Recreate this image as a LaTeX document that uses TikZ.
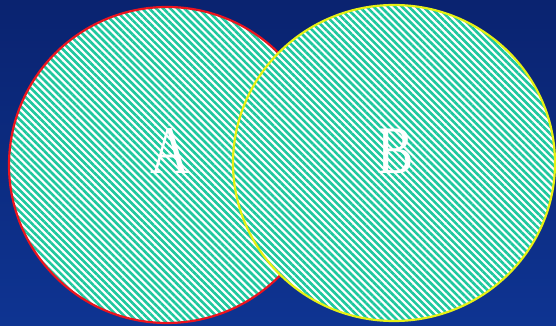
\documentclass[tikz,border=0pt]{standalone}
\usepackage{fontspec}
\setmainfont{Liberation Serif}
\usepackage{tikz}
\usetikzlibrary{patterns.meta}
\definecolor{bgtop}{RGB}{10,35,112}
\definecolor{bgbot}{RGB}{14,52,146}
\definecolor{hatchc}{RGB}{30,200,158}
\definecolor{edgea}{RGB}{235,20,30}
\definecolor{edgeb}{RGB}{230,240,20}
\tikzset{
  sethatch/.style={pattern={Lines[angle=-45,distance=5pt,line width=2.6pt]},pattern color=hatchc},
  setname/.style={text=white,inner sep=0pt,xscale=0.8,font=\fontsize{68}{68}\selectfont}
}
\begin{document}
\begin{tikzpicture}[x=1pt,y=1pt]
% frame and backdrop (556 x 326)
\useasboundingbox (0,0) rectangle (556,326);
\shade[top color=bgtop,bottom color=bgbot] (0,0) rectangle (556,326);
% set A
\fill[white] (167,161) circle (158);
\fill[sethatch] (167,161) circle (158);
\draw[edgea,line width=2.2pt] (167,161) circle (158);
% set B (on top)
\fill[white] (394,163) ellipse (161 and 158);
\fill[sethatch] (394,163) ellipse (161 and 158);
\draw[edgeb,line width=2.2pt] (394,163) ellipse (161 and 158);
% names
\node[setname] (nameA) at (170,174.5) {A};
\node[setname] (nameB) at (396,175) {B};
\end{tikzpicture}
\end{document}
